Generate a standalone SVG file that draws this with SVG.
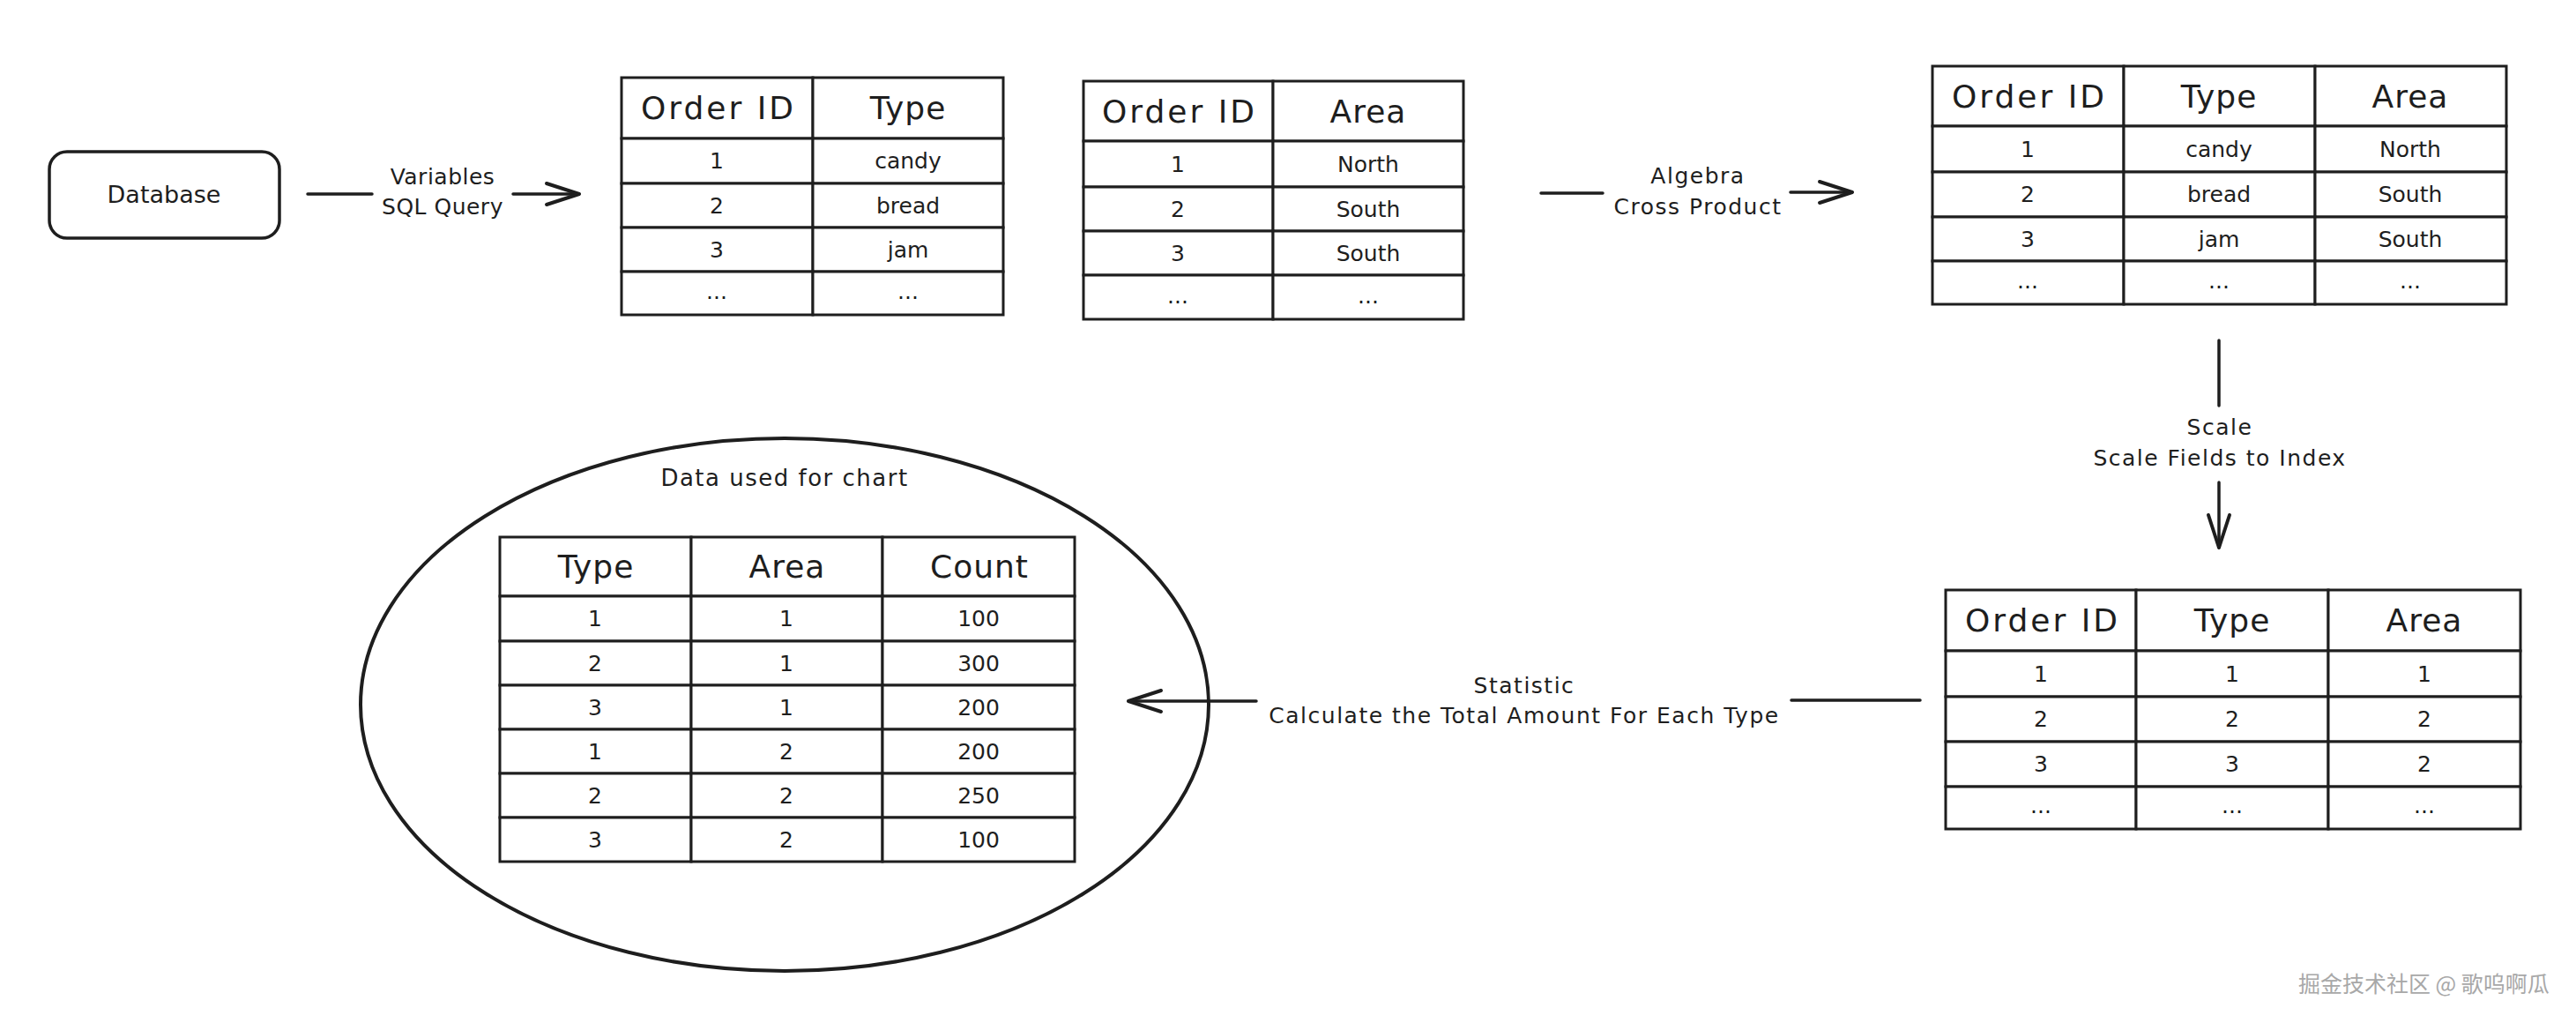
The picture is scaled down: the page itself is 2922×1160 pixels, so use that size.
<svg xmlns="http://www.w3.org/2000/svg" width="2922" height="1160" viewBox="0 0 2922 1160">
<style>
.bg{fill:#fff}
.cell{fill:#fff;stroke:#1e1e1e;stroke-width:3}
.box{fill:#fff;stroke:#1e1e1e;stroke-width:3.5}
.h{font-family:"DejaVu Sans",sans-serif;font-size:36px;fill:#1e1e1e;text-anchor:middle;letter-spacing:1px}
.oid{letter-spacing:3px}
.c{font-family:"DejaVu Sans",sans-serif;font-size:25px;fill:#1e1e1e;text-anchor:middle}
.lbl{font-family:"DejaVu Sans",sans-serif;font-size:25px;fill:#1e1e1e;text-anchor:middle;letter-spacing:1.5px}
.ln{stroke:#1e1e1e;stroke-width:3.5;fill:none;stroke-linecap:round}
.wm{font-family:"Noto Sans CJK SC",sans-serif;font-size:25px;fill:#a8a8a8}
</style>
<defs>
<marker id="arr" viewBox="-42 -16 46 32" refX="0" refY="0" markerWidth="46" markerHeight="32" markerUnits="userSpaceOnUse" orient="auto">
<path d="M-37,-12 L0,0 L-37,12" fill="none" stroke="#1e1e1e" stroke-width="4" stroke-linecap="round" stroke-linejoin="round"/>
</marker>
</defs>
<rect class="bg" x="0" y="0" width="2922" height="1160"/>

<g id="database">
<rect class="box" x="56" y="172" width="261" height="98" rx="20"/>
<text class="lbl" x="186" y="230" style="font-size:27px;letter-spacing:0">Database</text>
</g>

<g id="table-order-type">
<rect class="cell" x="705" y="88" width="217" height="69"/><rect class="cell" x="922" y="88" width="216" height="69"/>
<rect class="cell" x="705" y="157" width="217" height="51"/><rect class="cell" x="922" y="157" width="216" height="51"/>
<rect class="cell" x="705" y="208" width="217" height="50"/><rect class="cell" x="922" y="208" width="216" height="50"/>
<rect class="cell" x="705" y="258" width="217" height="50"/><rect class="cell" x="922" y="258" width="216" height="50"/>
<rect class="cell" x="705" y="308" width="217" height="49"/><rect class="cell" x="922" y="308" width="216" height="49"/>
<text class="h oid" x="815" y="135">Order ID</text><text class="h" x="1030" y="135">Type</text>
<text class="c" x="813" y="191">1</text><text class="c" x="1030" y="191">candy</text>
<text class="c" x="813" y="242">2</text><text class="c" x="1030" y="242">bread</text>
<text class="c" x="813" y="292">3</text><text class="c" x="1030" y="292">jam</text>
<text class="c" x="813" y="339">...</text><text class="c" x="1030" y="339">...</text>
</g>

<g id="table-order-area">
<rect class="cell" x="1229" y="92" width="215" height="68"/><rect class="cell" x="1444" y="92" width="216" height="68"/>
<rect class="cell" x="1229" y="160" width="215" height="52"/><rect class="cell" x="1444" y="160" width="216" height="52"/>
<rect class="cell" x="1229" y="212" width="215" height="50"/><rect class="cell" x="1444" y="212" width="216" height="50"/>
<rect class="cell" x="1229" y="262" width="215" height="50"/><rect class="cell" x="1444" y="262" width="216" height="50"/>
<rect class="cell" x="1229" y="312" width="215" height="50"/><rect class="cell" x="1444" y="312" width="216" height="50"/>
<text class="h oid" x="1338" y="139">Order ID</text><text class="h" x="1552" y="139">Area</text>
<text class="c" x="1336" y="195">1</text><text class="c" x="1552" y="195">North</text>
<text class="c" x="1336" y="246">2</text><text class="c" x="1552" y="246">South</text>
<text class="c" x="1336" y="296">3</text><text class="c" x="1552" y="296">South</text>
<text class="c" x="1336" y="344">...</text><text class="c" x="1552" y="344">...</text>
</g>

<g id="table-cross-product">
<rect class="cell" x="2192" y="75" width="217" height="68"/><rect class="cell" x="2409" y="75" width="217" height="68"/><rect class="cell" x="2626" y="75" width="217" height="68"/>
<rect class="cell" x="2192" y="143" width="217" height="52"/><rect class="cell" x="2409" y="143" width="217" height="52"/><rect class="cell" x="2626" y="143" width="217" height="52"/>
<rect class="cell" x="2192" y="195" width="217" height="51"/><rect class="cell" x="2409" y="195" width="217" height="51"/><rect class="cell" x="2626" y="195" width="217" height="51"/>
<rect class="cell" x="2192" y="246" width="217" height="50"/><rect class="cell" x="2409" y="246" width="217" height="50"/><rect class="cell" x="2626" y="246" width="217" height="50"/>
<rect class="cell" x="2192" y="296" width="217" height="49"/><rect class="cell" x="2409" y="296" width="217" height="49"/><rect class="cell" x="2626" y="296" width="217" height="49"/>
<text class="h oid" x="2302" y="122">Order ID</text><text class="h" x="2517" y="122">Type</text><text class="h" x="2734" y="122">Area</text>
<text class="c" x="2300" y="178">1</text><text class="c" x="2517" y="178">candy</text><text class="c" x="2734" y="178">North</text>
<text class="c" x="2300" y="229">2</text><text class="c" x="2517" y="229">bread</text><text class="c" x="2734" y="229">South</text>
<text class="c" x="2300" y="280">3</text><text class="c" x="2517" y="280">jam</text><text class="c" x="2734" y="280">South</text>
<text class="c" x="2300" y="327">...</text><text class="c" x="2517" y="327">...</text><text class="c" x="2734" y="327">...</text>
</g>

<g id="table-indexed">
<rect class="cell" x="2207" y="669" width="216" height="69"/><rect class="cell" x="2423" y="669" width="218" height="69"/><rect class="cell" x="2641" y="669" width="218" height="69"/>
<rect class="cell" x="2207" y="738" width="216" height="52"/><rect class="cell" x="2423" y="738" width="218" height="52"/><rect class="cell" x="2641" y="738" width="218" height="52"/>
<rect class="cell" x="2207" y="790" width="216" height="51"/><rect class="cell" x="2423" y="790" width="218" height="51"/><rect class="cell" x="2641" y="790" width="218" height="51"/>
<rect class="cell" x="2207" y="841" width="216" height="51"/><rect class="cell" x="2423" y="841" width="218" height="51"/><rect class="cell" x="2641" y="841" width="218" height="51"/>
<rect class="cell" x="2207" y="892" width="216" height="48"/><rect class="cell" x="2423" y="892" width="218" height="48"/><rect class="cell" x="2641" y="892" width="218" height="48"/>
<text class="h oid" x="2317" y="716">Order ID</text><text class="h" x="2532" y="716">Type</text><text class="h" x="2750" y="716">Area</text>
<text class="c" x="2315" y="773">1</text><text class="c" x="2532" y="773">1</text><text class="c" x="2750" y="773">1</text>
<text class="c" x="2315" y="824">2</text><text class="c" x="2532" y="824">2</text><text class="c" x="2750" y="824">2</text>
<text class="c" x="2315" y="875">3</text><text class="c" x="2532" y="875">3</text><text class="c" x="2750" y="875">2</text>
<text class="c" x="2315" y="922">...</text><text class="c" x="2532" y="922">...</text><text class="c" x="2750" y="922">...</text>
</g>

<g id="chart-data">
<ellipse cx="890" cy="799" rx="481" ry="302" fill="none" stroke="#1e1e1e" stroke-width="4"/>
<text class="lbl" x="890" y="551" style="font-size:26px">Data used for chart</text>
<rect class="cell" x="567" y="609" width="217" height="67"/><rect class="cell" x="784" y="609" width="217" height="67"/><rect class="cell" x="1001" y="609" width="218" height="67"/>
<rect class="cell" x="567" y="676" width="217" height="51"/><rect class="cell" x="784" y="676" width="217" height="51"/><rect class="cell" x="1001" y="676" width="218" height="51"/>
<rect class="cell" x="567" y="727" width="217" height="50"/><rect class="cell" x="784" y="727" width="217" height="50"/><rect class="cell" x="1001" y="727" width="218" height="50"/>
<rect class="cell" x="567" y="777" width="217" height="50"/><rect class="cell" x="784" y="777" width="217" height="50"/><rect class="cell" x="1001" y="777" width="218" height="50"/>
<rect class="cell" x="567" y="827" width="217" height="50"/><rect class="cell" x="784" y="827" width="217" height="50"/><rect class="cell" x="1001" y="827" width="218" height="50"/>
<rect class="cell" x="567" y="877" width="217" height="50"/><rect class="cell" x="784" y="877" width="217" height="50"/><rect class="cell" x="1001" y="877" width="218" height="50"/>
<rect class="cell" x="567" y="927" width="217" height="50"/><rect class="cell" x="784" y="927" width="217" height="50"/><rect class="cell" x="1001" y="927" width="218" height="50"/>
<text class="h" x="676" y="655">Type</text><text class="h" x="893" y="655">Area</text><text class="h" x="1111" y="655">Count</text>
<text class="c" x="675" y="710">1</text><text class="c" x="892" y="710">1</text><text class="c" x="1110" y="710">100</text>
<text class="c" x="675" y="761">2</text><text class="c" x="892" y="761">1</text><text class="c" x="1110" y="761">300</text>
<text class="c" x="675" y="811">3</text><text class="c" x="892" y="811">1</text><text class="c" x="1110" y="811">200</text>
<text class="c" x="675" y="861">1</text><text class="c" x="892" y="861">2</text><text class="c" x="1110" y="861">200</text>
<text class="c" x="675" y="911">2</text><text class="c" x="892" y="911">2</text><text class="c" x="1110" y="911">250</text>
<text class="c" x="675" y="961">3</text><text class="c" x="892" y="961">2</text><text class="c" x="1110" y="961">100</text>
</g>

<g id="connectors">
<line class="ln" x1="349" y1="220" x2="422" y2="220"/>
<line class="ln" x1="582" y1="220" x2="657" y2="220" marker-end="url(#arr)"/>
<text class="lbl" x="502" y="209" style="letter-spacing:0.5px">Variables</text>
<text class="lbl" x="502" y="243" style="letter-spacing:0.5px">SQL Query</text>

<line class="ln" x1="1748" y1="219" x2="1818" y2="219"/>
<line class="ln" x1="2031" y1="218" x2="2101" y2="218" marker-end="url(#arr)"/>
<text class="lbl" x="1926" y="208">Algebra</text>
<text class="lbl" x="1926" y="243">Cross Product</text>

<line class="ln" x1="2517" y1="386" x2="2517" y2="460"/>
<line class="ln" x1="2517" y1="547" x2="2517" y2="621" marker-end="url(#arr)"/>
<text class="lbl" x="2518" y="493">Scale</text>
<text class="lbl" x="2518" y="528">Scale Fields to Index</text>

<line class="ln" x1="2178" y1="794" x2="2032" y2="794"/>
<line class="ln" x1="1425" y1="795" x2="1280" y2="795" marker-end="url(#arr)"/>
<text class="lbl" x="1729" y="786">Statistic</text>
<text class="lbl" x="1729" y="820">Calculate the Total Amount For Each Type</text>
</g>

<text class="wm" x="2607" y="1125">掘金技术社区 @ 歌呜啊瓜</text>
</svg>
